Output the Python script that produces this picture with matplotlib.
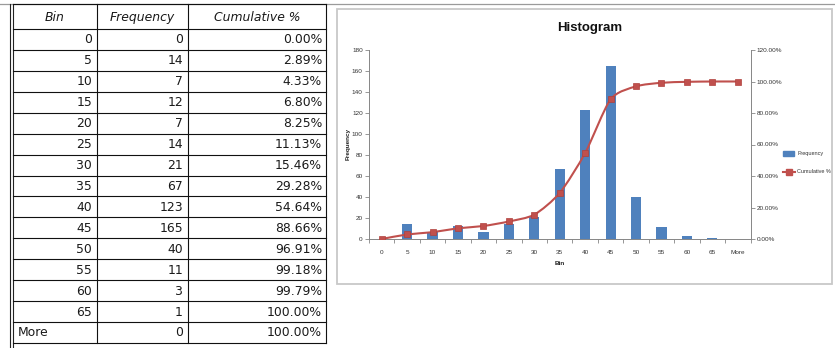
import numpy as np
import matplotlib
matplotlib.use("Agg")
import matplotlib.pyplot as plt
from matplotlib.path import Path
from matplotlib.patches import PathPatch, Rectangle
from matplotlib.lines import Line2D
from matplotlib.ticker import FuncFormatter, FixedLocator

# Frequency table
bins = ["0", "5", "10", "15", "20", "25", "30", "35", "40", "45",
        "50", "55", "60", "65", "More"]
frequency = [0, 14, 7, 12, 7, 14, 21, 67, 123, 165, 40, 11, 3, 1, 0]
cumulative_pct = [0.00, 2.89, 4.33, 6.80, 8.25, 11.13, 15.46, 29.28,
                  54.64, 88.66, 96.91, 99.18, 99.79, 100.00, 100.00]
headers = ["Bin", "Frequency", "Cumulative %"]

W, H = 835, 348
fig = plt.figure(figsize=(W / 100, H / 100), dpi=100)
fig.patch.set_facecolor("white")

NARROW = ["Liberation Sans", "DejaVu Sans"]

# ---------- background layer in pixel coordinates (table + chart frame) ----------
bg = fig.add_axes([0, 0, 1, 1], zorder=0)
bg.set_xlim(0, W)
bg.set_ylim(H, 0)
bg.axis("off")

# sheet line across the top
bg.add_line(Line2D([0, W], [3.5, 3.5], color="#9a9a9a", lw=0.9))

col_x = [13, 97, 188, 326]
top, head_bot, row_h = 3.5, 29, 20.93
n_rows = len(bins)
bottom = head_bot + n_rows * row_h

# double line on the left edge
for xx in (10, 13):
    bg.add_line(Line2D([xx, xx], [top, H], color="#222222", lw=0.8))
# table grid
for xx in col_x[1:]:
    bg.add_line(Line2D([xx, xx], [top, bottom], color="#111111", lw=0.8))
bg.add_line(Line2D([col_x[0], col_x[-1]], [top, top], color="#111111", lw=0.8))
bg.add_line(Line2D([col_x[0], col_x[-1]], [head_bot, head_bot], color="#111111", lw=0.8))
for i in range(1, n_rows + 1):
    y = head_bot + i * row_h
    bg.add_line(Line2D([col_x[0], col_x[-1]], [y, y], color="#111111", lw=0.8))

tfont = dict(family="DejaVu Sans", fontsize=8.9, color="#1a1a1a")
for j, h in enumerate(headers):
    bg.text((col_x[j] + col_x[j + 1]) / 2, (top + head_bot) / 2 + 1, h,
            ha="center", va="center", style="italic", **tfont)
for i in range(n_rows):
    yc = head_bot + (i + 0.5) * row_h + 0.5
    b = bins[i]
    if b.isdigit():
        bg.text(col_x[1] - 5, yc, b, ha="right", va="center", **tfont)
    else:
        bg.text(col_x[0] + 5, yc, b, ha="left", va="center", **tfont)
    bg.text(col_x[2] - 5, yc, str(frequency[i]), ha="right", va="center", **tfont)
    bg.text(col_x[3] - 4, yc, f"{cumulative_pct[i]:.2f}%", ha="right", va="center", **tfont)

# chart frame
bg.add_patch(Rectangle((337, 8.5), 495, 275.5, fill=False, edgecolor="#c8c8c8", lw=1.3))

# ---------- chart ----------
ax_l, ax_r, ax_t, ax_b = 369, 750.5, 50, 239
ax = fig.add_axes([ax_l / W, 1 - ax_b / H, (ax_r - ax_l) / W, (ax_b - ax_t) / H], zorder=2)
ax.patch.set_alpha(0)
x = np.arange(len(bins))
bar_c = "#4F81BD"
line_c = "#C0504D"
axis_c = "#868686"
TICK_FS = 4.6
legend_font = dict(family=NARROW, fontsize=4.0, color="#333333")

ax.bar(x, frequency, width=0.4, color=bar_c, zorder=2, label="Frequency")
ax.set_xlim(-0.5, len(bins) - 0.5)
ax.set_ylim(0, 180)
ax.set_yticks(np.arange(0, 181, 20))
for s in ("top", "right"):
    ax.spines[s].set_visible(False)
for s in ("left", "bottom"):
    ax.spines[s].set_color(axis_c)
    ax.spines[s].set_linewidth(0.7)

# tick marks between categories, labels at category centres
ax.xaxis.set_major_locator(FixedLocator(np.arange(-0.5, len(bins), 1.0)))
ax.xaxis.set_major_formatter(FuncFormatter(lambda v, p: ""))
ax.xaxis.set_minor_locator(FixedLocator(x))
ax.set_xticklabels(bins, minor=True)
ax.tick_params(axis="x", which="major", length=3, width=0.6, color=axis_c, direction="out")
ax.tick_params(axis="x", which="minor", length=0, pad=8)
ax.tick_params(axis="y", length=3, width=0.6, color=axis_c, direction="out", pad=1.5)
for lab in ax.get_xticklabels(minor=True) + ax.get_yticklabels():
    lab.set_fontfamily(NARROW)
    lab.set_fontsize(TICK_FS)
    lab.set_color("#333333")

ax.set_xlabel("Bin", fontfamily=NARROW, fontsize=4.6, fontweight="bold",
              color="#222222", labelpad=4)
ax.set_ylabel("Frequency", fontfamily=NARROW, fontsize=4.6, fontweight="bold",
              color="#222222", labelpad=1)

ax2 = ax.twinx()
ax2.set_zorder(3)
ax2.patch.set_alpha(0)
ax2.set_ylim(0, 1.2)
ax2.set_yticks(np.arange(0, 1.21, 0.2))
ax2.yaxis.set_major_formatter(FuncFormatter(lambda v, p: f"{v * 100:.2f}%"))
for s in ("top", "left", "bottom"):
    ax2.spines[s].set_visible(False)
ax2.spines["right"].set_color(axis_c)
ax2.spines["right"].set_linewidth(0.7)
ax2.tick_params(axis="y", length=3, width=0.6, color=axis_c, direction="out", pad=1.5)
for lab in ax2.get_yticklabels():
    lab.set_fontfamily(NARROW)
    lab.set_fontsize(TICK_FS)
    lab.set_color("#333333")

# smoothed cumulative line built from Bezier segments through the data points
cum = np.array(cumulative_pct) / 100.0
pts = np.column_stack([x, cum])
verts = [pts[0]]
codes = [Path.MOVETO]
n = len(pts)
k = 1.0 / 8.0
for i in range(n - 1):
    p0 = pts[i - 1] if i > 0 else pts[i]
    p1, p2 = pts[i], pts[i + 1]
    p3 = pts[i + 2] if i + 2 < n else pts[i + 1]
    c1 = p1 + (p2 - p0) * k
    c2 = p2 - (p3 - p1) * k
    verts += [c1, c2, p2]
    codes += [Path.CURVE4] * 3
ax2.add_patch(PathPatch(Path(verts, codes), fill=False, edgecolor=line_c,
                        lw=1.5, zorder=4, capstyle="round", joinstyle="round"))
ax2.plot(x, cum, linestyle="none", marker="s", markersize=4,
         color=line_c, markeredgecolor="#b0403d", markeredgewidth=0.5, zorder=5)

# title
fig.text(590 / W, 1 - 28 / H, "Histogram", ha="center", va="center",
         fontfamily=NARROW, fontsize=9.5, fontweight="bold", color="#111111")

# legend
bg.add_patch(Rectangle((783, 150.5), 11, 5, color=bar_c, zorder=3))
bg.text(797, 153, "Frequency", ha="left", va="center", **legend_font)
bg.add_line(Line2D([783, 795], [171.5, 171.5], color=line_c, lw=1.5, zorder=3))
bg.add_line(Line2D([789], [171.5], marker="s", markersize=4, color=line_c,
                   linestyle="none", zorder=4))
bg.text(797, 171.5, "Cumulative %", ha="left", va="center", **legend_font)

fig.savefig("out.png", dpi=100, facecolor="white")
